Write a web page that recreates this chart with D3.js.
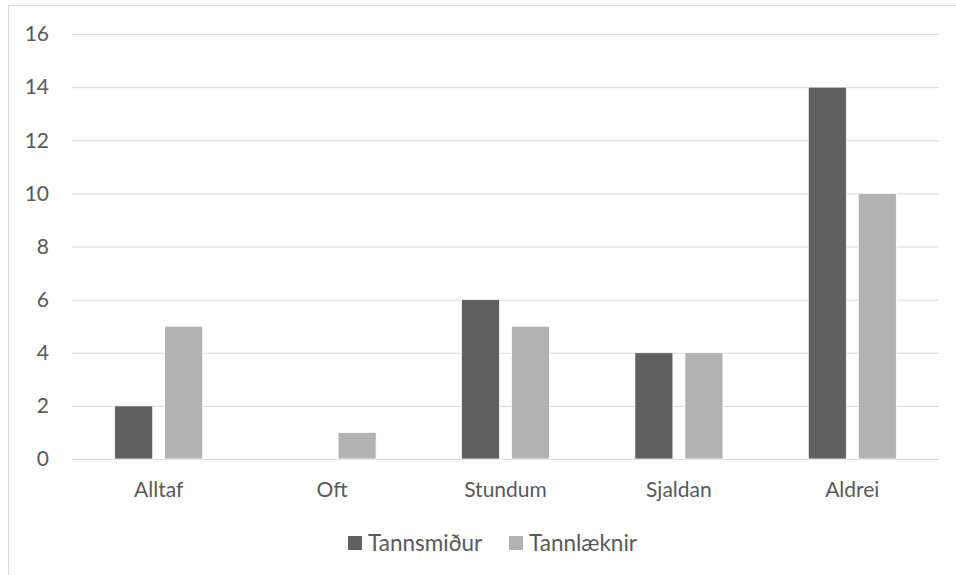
<!DOCTYPE html>
<html>
<head>
<meta charset="utf-8">
<script src="https://cdn.jsdelivr.net/npm/d3@7"></script>
<style>
  body { margin: 0; background: #fff; }
  svg text { font-family: Lato, "Open Sans", sans-serif; fill: #595959; }
</style>
</head>
<body>
<div id="chart"></div>
<script>
var categories = ["Alltaf", "Oft", "Stundum", "Sjaldan", "Aldrei"]
var seriesNames = ["Tannsmiður", "Tannlæknir"]
var tannsmidur = [2, 0, 6, 4, 14]
var tannlaeknir = [5, 1, 5, 4, 10]
var yTicks = [0, 2, 4, 6, 8, 10, 12, 14, 16]
var colors = ["#606060", "#b2b2b2"]

var W = 956, H = 575
var fontSize = "21px"
var svg = d3.select("#chart")
    .append("svg")
    .attr("width", W)
    .attr("height", H)
    .style("display", "block")

// chart frame (runs off the right and bottom edge)
svg.append("rect")
    .attr("x", 8.5).attr("y", 5.5)
    .attr("width", W + 20).attr("height", H + 20)
    .style("fill", "none")
    .style("stroke", "#d9d9d9")

var plotLeft = 72, plotRight = 939, plotTop = 34, plotBottom = 459

var x = d3.scaleBand().domain(categories).range([plotLeft, plotRight])
var y = d3.scaleLinear().domain([0, 16]).range([plotBottom, plotTop])
var xs = d3.scaleBand().domain(seriesNames).range([42.7, x.bandwidth() - 42.7]).paddingInner(0.24)

var grid = svg.append("g").attr("class", "grid")
grid.selectAll("line")
    .data(yTicks)
    .enter()
    .append("line")
    .attr("x1", plotLeft).attr("x2", plotRight)
    .attr("y1", function (d) { return y(d) + 0.5 })
    .attr("y2", function (d) { return y(d) + 0.5 })
    .style("stroke", "#d9d9d9")
    .style("stroke-width", 1)

svg.append("g").selectAll("text")
    .data(yTicks)
    .enter()
    .append("text")
    .attr("x", 49)
    .attr("y", function (d) { return y(d) })
    .attr("dy", "0.35em")
    .attr("text-anchor", "end")
    .style("font-size", fontSize)
    .text(function (d) { return d })

var rows = categories.map(function (c, i) {
    return { cat: c, values: [tannsmidur[i], tannlaeknir[i]] }
})

var groups = svg.append("g").attr("class", "bars")
    .selectAll("g")
    .data(rows)
    .enter()
    .append("g")
    .attr("transform", function (d) { return "translate(" + x(d.cat) + ",0)" })

groups.selectAll("rect")
    .data(function (d) { return d.values.map(function (v, j) { return { name: seriesNames[j], v: v, j: j } }) })
    .enter()
    .append("rect")
    .attr("x", function (d) { return xs(d.name) })
    .attr("width", xs.bandwidth())
    .attr("y", function (d) { return y(d.v) })
    .attr("height", function (d) { return y(0) - y(d.v) })
    .style("fill", function (d) { return colors[d.j] })
    .style("stroke", "#ffffff")
    .style("stroke-width", 0.75)

svg.append("g").selectAll("text")
    .data(categories)
    .enter()
    .append("text")
    .attr("x", function (d) { return x(d) + x.bandwidth() / 2 })
    .attr("y", 490)
    .attr("dy", "0.35em")
    .attr("text-anchor", "middle")
    .style("font-size", fontSize)
    .text(function (d) { return d })

// legend
var legendX = [348, 509]
var legend = svg.append("g").selectAll("g")
    .data(seriesNames)
    .enter()
    .append("g")
    .attr("transform", function (d, i) { return "translate(" + legendX[i] + ",536)" })

legend.append("rect")
    .attr("width", 14).attr("height", 14)
    .style("fill", function (d, i) { return colors[i] })

legend.append("text")
    .attr("x", 20).attr("y", 7)
    .attr("dy", "0.35em")
    .style("font-size", "22.5px")
    .text(function (d) { return d })
</script>
</body>
</html>
